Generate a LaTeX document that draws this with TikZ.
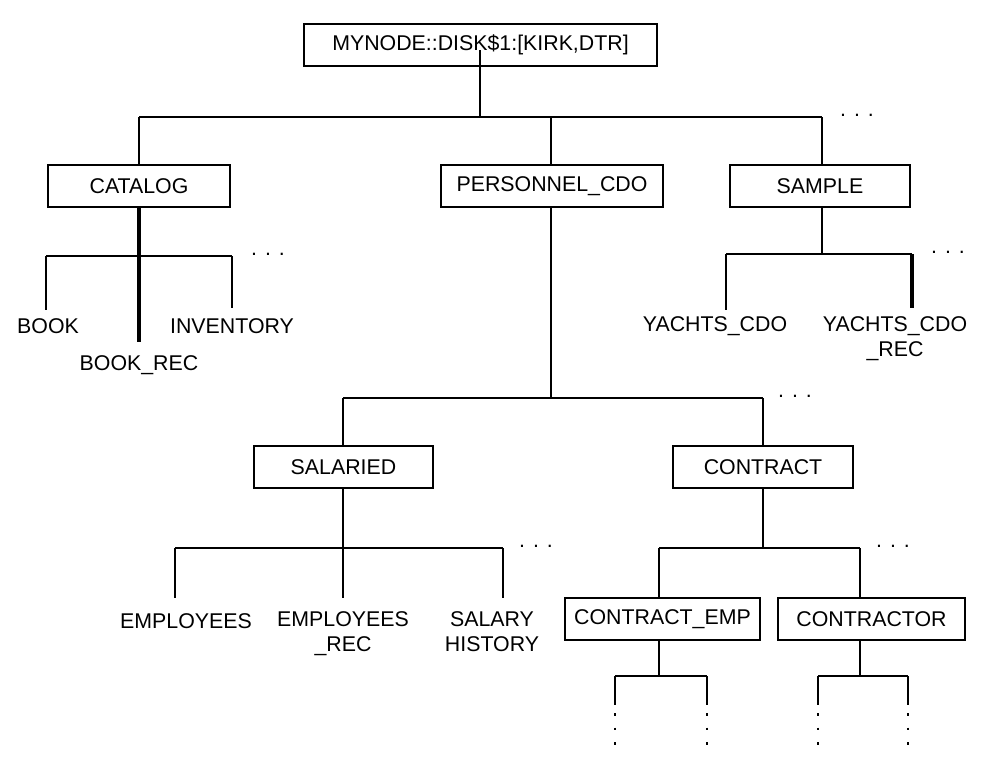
\documentclass[tikz,border=0pt]{standalone}
\usepackage{fontspec}
\setmainfont{Liberation Sans}
\begin{document}
\begin{tikzpicture}[x=0.75pt,y=0.75pt,yscale=-1,xscale=1,
  box/.style={draw,line width=1.4pt,minimum height=32pt,inner sep=0pt,font=\fontsize{16}{19}\selectfont},
  lbl/.style={inner sep=0pt,align=center,font=\fontsize{16}{19}\selectfont},
  dots/.style={inner sep=0pt,font=\fontsize{16}{19}\selectfont},
  ln/.style={line width=1.6pt},
  thk/.style={line width=2.6pt}]
\useasboundingbox (0,0) rectangle (989,769);

% Boxes
\node[box,minimum width=265pt] (root) at (480.5,45) {MYNODE::DISK\$1:[KIRK,DTR]};
\node[box,minimum width=136pt] (catalog) at (139,186) {CATALOG};
\node[box,minimum width=166pt] (personnel) at (552,186) {PERSONNEL\_CDO};
\node[box,minimum width=135pt] (sample) at (820,186) {SAMPLE};
\node[box,minimum width=134pt] (salaried) at (343.5,467) {SALARIED};
\node[box,minimum width=135pt] (contract) at (763,467) {CONTRACT};
\node[box,minimum width=146pt] (cemp) at (662.5,619) {CONTRACT\_EMP};
\node[box,minimum width=140pt] (contractor) at (871.5,619) {CONTRACTOR};

% Leaves
\node[lbl] (book) at (48,326) {BOOK};
\node[lbl] (bookrec) at (139,365) {BOOK\_REC};
\node[lbl] (inventory) at (232,326) {INVENTORY};
\node[lbl] (yachts) at (715,326) {YACHTS\_CDO};
\node[lbl,anchor=north] (yachtsrec) at (895,316) {YACHTS\_CDO\\\_REC};
\node[lbl] (employees) at (186,621) {EMPLOYEES};
\node[lbl,anchor=north] (emprec) at (343,611) {EMPLOYEES\\\_REC};
\node[lbl,anchor=north] (salhist) at (492,611) {SALARY\\HISTORY};

% Junctions
\coordinate (j0) at (480,117);
\coordinate (j1) at (139,256);
\coordinate (j2) at (822,254);
\coordinate (j3) at (551,398);
\coordinate (j4) at (343,548);
\coordinate (j5) at (763,548);
\coordinate (j6) at (659,676);
\coordinate (j7) at (860,676);

% Top level
\draw[ln] (480,50) -- (j0);
\draw[ln] (139,117) -- (822,117);
\draw[ln] (139,117) -- (catalog.north -| 139,0);
\draw[ln] (551,117) -- (personnel.north -| 551,0);
\draw[ln] (822,117) -- (sample.north -| 822,0);
\node[dots] (d0) at (857,115) {. . .};

% Catalog
\draw[thk] (catalog.south -| j1) -- (139,342);
\draw[ln] (46,256) -- (232,256);
\draw[ln] (46,256) -- (46,310);
\draw[ln] (232,256) -- (232,308);
\node[dots] (d1) at (268,254) {. . .};

% Sample
\draw[ln] (sample.south -| j2) -- (j2);
\draw[ln] (726,254) -- (912,254);
\draw[ln] (726,254) -- (726,310);
\draw[thk] (912,254) -- (912,308);
\node[dots] (d2) at (948,252) {. . .};

% Personnel
\draw[ln] (personnel.south -| j3) -- (j3);
\draw[ln] (343,398) -- (763,398);
\draw[ln] (343,398) -- (salaried.north -| 343,0);
\draw[ln] (763,398) -- (contract.north -| 763,0);
\node[dots] (d3) at (795,396) {. . .};

% Salaried
\draw[ln] (salaried.south -| j4) -- (343,598);
\draw[ln] (175,548) -- (503,548);
\draw[ln] (175,548) -- (175,598);
\draw[ln] (503,548) -- (503,598);
\node[dots] (d4) at (536,546) {. . .};

% Contract
\draw[ln] (contract.south -| j5) -- (j5);
\draw[ln] (659,548) -- (860,548);
\draw[ln] (659,548) -- (cemp.north -| 659,0);
\draw[ln] (860,548) -- (contractor.north -| 860,0);
\node[dots] (d5) at (893,546) {. . .};

% Lower levels
\foreach \j/\b/\l/\r in {j6/cemp/615/707, j7/contractor/818/908}{
  \draw[ln] (\b.south -| \j) -- (\j);
  \draw[ln] (\l,676) -- (\r,676) (\l,676) -- (\l,705) (\r,676) -- (\r,705);
  \draw[line width=1.6pt,dash pattern=on 2pt off 9pt] (\l,713) -- (\l,748) (\r,713) -- (\r,748);
}
\end{tikzpicture}
\end{document}
